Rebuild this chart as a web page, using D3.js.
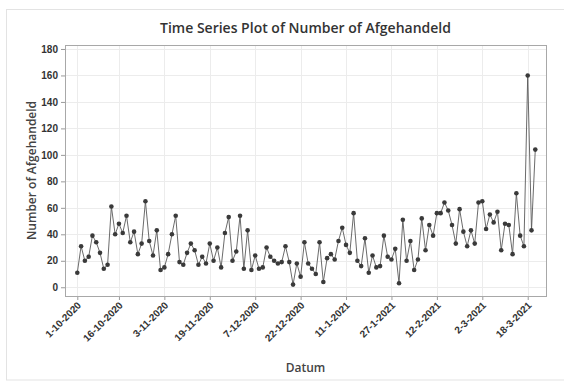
<!DOCTYPE html>
<html>
<head>
<meta charset="utf-8">
<script src="https://cdn.jsdelivr.net/npm/d3@7"></script>
<style>
  body { margin: 0; background: #fff; }
  svg { display: block; font-family: "Open Sans", "Noto Sans", sans-serif; }
</style>
</head>
<body>
<svg id="chart" width="564" height="383"></svg>
<script>
// Number of Afgehandeld per observation (obs 1 = 1-10-2020)
const values = [
  11, 31, 20, 23, 39, 34, 26, 14, 17, 61, 40, 48, 41, 54, 34, 42, 25, 33, 65, 35,
  24, 43, 13, 15, 25, 40, 54, 19, 17, 26, 33, 28, 17, 23, 18, 33, 20, 30, 15, 41,
  53, 20, 27, 54, 14, 43, 13, 24, 14, 15, 30, 23, 20, 18, 19, 31, 19, 2, 18, 8,
  34, 18, 14, 10, 34, 4, 22, 25, 21, 35, 45, 32, 26, 56, 20, 16, 37, 11, 24, 15,
  16, 39, 23, 21, 29, 3, 51, 20, 35, 13, 21, 52, 28, 47, 39, 56, 56, 64, 58, 47,
  33, 59, 42, 31, 43, 33, 64, 65, 44, 55, 49, 57, 28, 48, 47, 25, 71, 39, 31, 160,
  43, 104
];

// x tick positions (observation number) and their date labels
const tickIndex = [1, 12, 24, 36, 48, 60, 72, 84, 96, 108, 120];
const tickLabels = [
  "1-10-2020", "16-10-2020", "3-11-2020", "19-11-2020", "7-12-2020", "22-12-2020",
  "11-1-2021", "27-1-2021", "12-2-2021", "2-3-2021", "18-3-2021"
];
const yTicks = [0, 20, 40, 60, 80, 100, 120, 140, 160, 180];

const svg = d3.select("#chart");

// plot frame
const frame = { left: 65, top: 45, right: 546, bottom: 296 };

const x = d3.scaleLinear().domain([-2.25, 124.83]).range([frame.left, frame.right]);
const y = d3.scaleLinear().domain([-6.6, 183]).range([frame.bottom, frame.top]);

// outer graph border
svg.append("rect")
    .attr("x", 6.5).attr("y", 9.5)
    .attr("width", 570).attr("height", 370.5)
    .attr("fill", "none")
    .attr("stroke", "#e3e3e3");

// gridlines
const grid = svg.append("g").attr("stroke", "#ececec").attr("stroke-width", 1);
grid.selectAll("line.h")
    .data(yTicks)
    .enter()
    .append("line")
    .attr("x1", frame.left).attr("x2", frame.right)
    .attr("y1", (d) => Math.round(y(d)) + 0.5)
    .attr("y2", (d) => Math.round(y(d)) + 0.5);
grid.selectAll("line.v")
    .data(tickIndex)
    .enter()
    .append("line")
    .attr("y1", frame.top).attr("y2", frame.bottom)
    .attr("x1", (d) => Math.round(x(d)) + 0.5)
    .attr("x2", (d) => Math.round(x(d)) + 0.5);

// axes
const yAxis = svg.append("g")
    .attr("transform", `translate(${frame.left},0)`)
    .call(d3.axisLeft(y).tickValues(yTicks).tickSize(4).tickPadding(3));

const xAxis = svg.append("g")
    .attr("transform", `translate(0,${frame.bottom})`)
    .call(
        d3.axisBottom(x)
            .tickValues(tickIndex)
            .tickSize(4)
            .tickFormat((d, i) => tickLabels[i]),
    );

[xAxis, yAxis].forEach((ax) => {
    ax.select(".domain").remove();
    ax.selectAll(".tick line").attr("stroke", "#9a9a9a");
    ax.selectAll("text")
        .attr("fill", "#333")
        .style("font-size", "10px")
        .style("font-weight", 600);
});

xAxis.selectAll("text")
    .attr("text-anchor", "end")
    .attr("dy", null)
    .attr("y", 0)
    .attr("transform", "translate(4,10) rotate(-45)");

// frame box
svg.append("rect")
    .attr("x", frame.left + 0.5).attr("y", frame.top + 0.5)
    .attr("width", frame.right - frame.left)
    .attr("height", frame.bottom - frame.top)
    .attr("fill", "none")
    .attr("stroke", "#a8a8a8");

// series line
const line = d3.line()
    .x((d, i) => x(i + 1))
    .y((d) => y(d));

svg.append("path")
    .datum(values)
    .attr("d", line)
    .attr("fill", "none")
    .attr("stroke", "#5a5a5a")
    .attr("stroke-width", 0.9);

// markers
svg.append("g")
    .selectAll("circle")
    .data(values)
    .enter()
    .append("circle")
    .attr("cx", (d, i) => x(i + 1))
    .attr("cy", (d) => y(d))
    .attr("r", 2.3)
    .attr("fill", "#3a3a3a");

// title and axis labels
svg.append("text")
    .attr("x", (frame.left + frame.right) / 2)
    .attr("y", 33)
    .attr("text-anchor", "middle")
    .attr("fill", "#333")
    .style("font-size", "14px")
    .style("font-weight", 600)
    .text("Time Series Plot of Number of Afgehandeld");

svg.append("text")
    .attr("x", (frame.left + frame.right) / 2)
    .attr("y", 372)
    .attr("text-anchor", "middle")
    .attr("fill", "#444")
    .style("font-size", "12px")
    .style("font-weight", 600)
    .text("Datum");

svg.append("text")
    .attr("transform", `translate(36,${(frame.top + frame.bottom) / 2}) rotate(-90)`)
    .attr("text-anchor", "middle")
    .attr("fill", "#444")
    .style("font-size", "12px")
    .style("font-weight", 600)
    .text("Number of Afgehandeld");
</script>
</body>
</html>
